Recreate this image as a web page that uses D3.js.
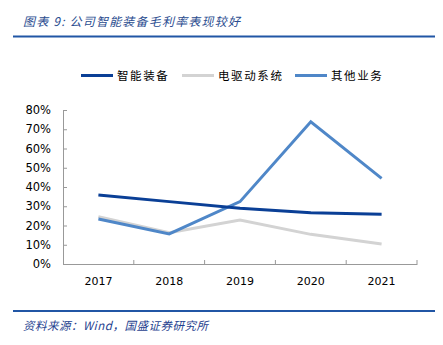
<!DOCTYPE html>
<html><head><meta charset="utf-8">
<script src="https://cdn.jsdelivr.net/npm/d3@7"></script>
<style>body{margin:0;background:#fff}svg{display:block}</style>
</head><body>
<script>
const years = ["2017","2018","2019","2020","2021"];
const seriesNames = ["智能装备","电驱动系统","其他业务"];
const smartEquip = [35.8, 32.4, 28.9, 26.6, 25.8];
const eDrive = [24.6, 16.2, 22.9, 15.4, 10.4];
const other = [23.4, 15.6, 32.4, 73.9, 44.5];
const yTicks = [0,10,20,30,40,50,60,70,80];
const colors = ["#0a3f96", "#d3d3d3", "#4f87c8"];

const W = 443, H = 345;
const svg = d3.select("body").append("svg").attr("width", W).attr("height", H);
const cjk = "'Noto Sans CJK SC', sans-serif";

// title
svg.append("text").attr("x", 23).attr("y", 26)
  .attr("font-family", cjk).attr("font-size", 12).attr("font-style", "italic")
  .attr("fill", "#2a4c8f").attr("letter-spacing", 1.2)
  .text("图表 9:  公司智能装备毛利率表现较好");
svg.append("line").attr("x1", 13).attr("x2", 435).attr("y1", 36.5).attr("y2", 36.5)
  .attr("stroke", "#2156a5").attr("stroke-width", 2);

const x = d3.scaleBand().domain(years).range([63, 417]);
const y = d3.scaleLinear().domain([0, 80]).range([264, 110]);

// y axis
const yAxis = svg.append("g").attr("transform", "translate(63,0)")
  .call(d3.axisLeft(y).tickValues(yTicks).tickFormat(d => d + "%").tickSizeInner(-4).tickSizeOuter(0).tickPadding(12));
yAxis.select(".domain").attr("stroke", "#999");
yAxis.selectAll(".tick line").attr("stroke", "#999");
yAxis.selectAll("text").attr("font-family", "'DejaVu Sans', sans-serif").attr("font-size", 11.5).attr("fill", "#000");

// x axis
const xAxis = svg.append("g").attr("transform", "translate(0,264)")
  .call(d3.axisBottom(x).tickSize(0).tickPadding(13));
xAxis.select(".domain").attr("stroke", "#999");
xAxis.selectAll("text").attr("font-family", "'DejaVu Sans', sans-serif").attr("font-size", 11).attr("fill", "#000");
// category boundary ticks
svg.append("g").selectAll("line").data(years).join("line")
  .attr("x1", d => x(d) + x.bandwidth()).attr("x2", d => x(d) + x.bandwidth())
  .attr("y1", 264).attr("y2", 260).attr("stroke", "#999");

// lines
const data = [smartEquip, eDrive, other];
const line = d3.line().x((d, i) => x(years[i]) + x.bandwidth() / 2).y(d => y(d));
[1, 2, 0].forEach(k => {
  svg.append("path").datum(data[k]).attr("d", line)
    .attr("fill", "none").attr("stroke", colors[k]).attr("stroke-width", 3)
    .attr("stroke-linejoin", "miter");
});

// legend
const legX = [81, 182, 295];
seriesNames.forEach((n, i) => {
  svg.append("line").attr("x1", legX[i]).attr("x2", legX[i] + 32).attr("y1", 75.5).attr("y2", 75.5)
    .attr("stroke", colors[i]).attr("stroke-width", 3);
  svg.append("text").attr("x", legX[i] + 36).attr("y", 80)
    .attr("font-family", cjk).attr("font-size", 11.5).attr("letter-spacing", 1.6).attr("fill", "#000")
    .text(n);
});

// source
svg.append("line").attr("x1", 13).attr("x2", 435).attr("y1", 311).attr("y2", 311)
  .attr("stroke", "#2156a5").attr("stroke-width", 2);
svg.append("text").attr("x", 23).attr("y", 330)
  .attr("font-family", cjk).attr("font-size", 11.5).attr("font-style", "italic")
  .attr("fill", "#1f3f8f").attr("letter-spacing", 0.5)
  .text("资料来源：Wind，国盛证券研究所");
</script>
</body></html>
